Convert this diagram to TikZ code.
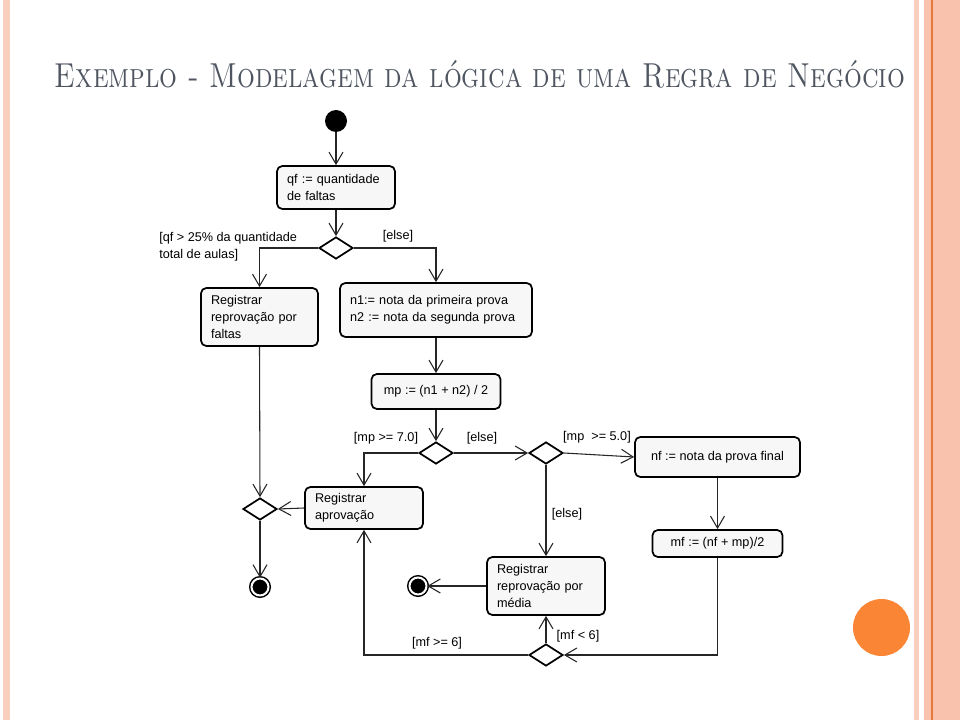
\documentclass[tikz,border=0pt]{standalone}
\usepackage{fontspec}
\newfontfamily\diagfont{Liberation Sans}
\usetikzlibrary{arrows.meta,shapes.geometric}
\newdimen\px \px=0.75pt
\definecolor{titulo}{RGB}{80,86,97}
\definecolor{faixa}{RGB}{249,194,172}
\definecolor{faixaclara}{RGB}{249,206,188}
\definecolor{laranja}{RGB}{230,122,60}
\definecolor{bola}{RGB}{250,133,52}
\tikzset{
    %Define standard arrow tip
    >={Straight Barb[length=9pt,width=10.5pt]},
    %Define style for action boxes
    acao/.style={
           rectangle,
           rounded corners=4pt,
           draw=black, line width=1.3pt,
           fill=gray!6,
           inner xsep=7.5pt,
           font=\diagfont\fontsize{9.5}{12.75}\selectfont,
           align=left},
    % Define style for decisions
    decisao/.style={
           diamond,
           draw=black, line width=1.3pt,
           fill=white,
           minimum width=34\px,
           minimum height=22\px,
           inner sep=0pt},
    % Define start and end styles
    inicio/.style={circle, fill=black, minimum size=22\px, inner sep=0pt},
    fim/.style={
           circle, fill=black, draw=black,
           double=white, double distance=2\px,
           line width=1.5\px,
           minimum size=17\px, inner sep=0pt},
    % Define guard label style
    guarda/.style={
           font=\diagfont\fontsize{9.5}{12.5}\selectfont,
           inner sep=0pt,
           align=left},
    % Define arrow style
    pil/.style={
           ->,
           draw=black!85,
           line width=0.8pt}
}

\begin{document}
\begin{tikzpicture}[x=0.75pt, y=-0.75pt]
        \useasboundingbox (0,0) rectangle (960,720);

        % side stripes and dot
        \fill[faixaclara] (3,0) rectangle (10,720);
        \fill[faixaclara] (914,0) rectangle (919,720);
        \fill[faixa] (924,0) rectangle (960,720);
        \draw[laranja, line width=1.2pt] (932,0) -- (932,720);
        \fill[bola] (881.5,627.5) circle [radius=28.5];

        % title node
        \node[anchor=base, text=titulo]
        (title) at (480,88)
        {\resizebox{850\px}{\height}{\fontsize{26}{30}\selectfont\scshape Exemplo - Modelagem da lógica de uma Regra de Negócio}}
        ;

        %nodes

        % initial node
        \node[inicio]
        (start) at (336,121)
        {}
        ;

        % qf node
        \node[acao, text width=73.5pt, minimum height=32.25pt]
        (qf) at (336,187.5)
        {qf := quantidade\\de faltas}
        ;

        % first decision
        \node[decisao]
        (d1) at (336,248)
        {}
        ;

        % reprovacao por faltas node
        \node[acao, text width=72.75pt, minimum height=43.5pt]
        (faltas) at (259.5,317)
        {Registrar\\reprovação por\\faltas}
        ;

        % notas node
        \node[acao, text width=129pt, minimum height=40.5pt]
        (notas) at (436,310)
        {n1:= nota da primeira prova\\n2 := nota da segunda prova}
        ;

        % media parcial node
        \node[acao, align=center, minimum width=96.75pt, minimum height=26.25pt]
        (mp) at (436,391.5)
        {mp := (n1 + n2) / 2}
        ;

        % second decision
        \node[decisao]
        (d2) at (436,453)
        {}
        ;

        % aprovacao node
        \node[acao, text width=73.5pt, minimum height=31.5pt]
        (aprov) at (364,508)
        {Registrar\\aprovação}
        ;

        % third decision
        \node[decisao]
        (d3) at (546,453)
        {}
        ;

        % prova final node
        \node[acao, align=center, minimum width=123.75pt, minimum height=30pt]
        (nf) at (717.5,457)
        {nf := nota da prova final}
        ;

        % media final node
        \node[acao, align=center, minimum width=97.5pt, minimum height=20.25pt]
        (mf) at (717.5,543.5)
        {mf := (nf + mp)/2}
        ;

        % reprovacao por media node
        \node[acao, text width=73.5pt, minimum height=43.5pt]
        (media) at (546,586)
        {Registrar\\reprovação por\\média}
        ;

        % fourth decision
        \node[decisao]
        (d4) at (546,655)
        {}
        ;

        % merge node
        \node[decisao]
        (d5) at (260,509)
        {}
        ;

        % final nodes
        \node[fim]
        (fim1) at (260,587)
        {}
        ;
        \node[fim]
        (fim2) at (418,586)
        {}
        ;

        % guard labels
        \node[guarda, anchor=west]
        (g1) at (159,247)
        {[qf > 25\% da quantidade\\total de aulas]}
        ;
        \node[guarda]
        (g2) at (398,236)
        {[else]}
        ;
        \node[guarda]
        (g3) at (386,438)
        {[mp >= 7.0]}
        ;
        \node[guarda]
        (g4) at (482,438)
        {[else]}
        ;
        \node[guarda]
        (g5) at (597,437)
        {[mp\ \ >= 5.0]}
        ;
        \node[guarda]
        (g6) at (567,514)
        {[else]}
        ;
        \node[guarda]
        (g7) at (578,636)
        {[mf < 6]}
        ;
        \node[guarda]
        (g8) at (437,643)
        {[mf >= 6]}
        ;

        % flows
        \draw[pil] (start) -- (qf);
        \draw[pil] (qf) -- (d1);
        \draw[pil] (d1.west) -| (faltas.north);
        \draw[pil] (d1.east) -| (notas.north);
        \draw[pil] (notas) -- (mp);
        \draw[pil] (mp) -- (d2);
        \draw[pil] (d2.west) -| (aprov.north);
        \draw[pil] (d2.east) -- (d3.west);
        \draw[pil] (d3.east) -- (nf.west);
        \draw[pil] (d3.south) -- (media.north);
        \draw[pil] (nf) -- (mf);
        \draw[pil] (mf.south) |- (d4.east);
        \draw[pil] (d4.north) -- (media.south);
        \draw[pil] (d4.west) -| (aprov.south);
        \draw[pil] (aprov.west) -- (d5.east);
        \draw[pil] (faltas.south) -- (d5.north);
        \draw[pil] (d5.south) -- (fim1);
        \draw[pil] (media.west) -- (fim2);

    \end{tikzpicture}
\end{document}
